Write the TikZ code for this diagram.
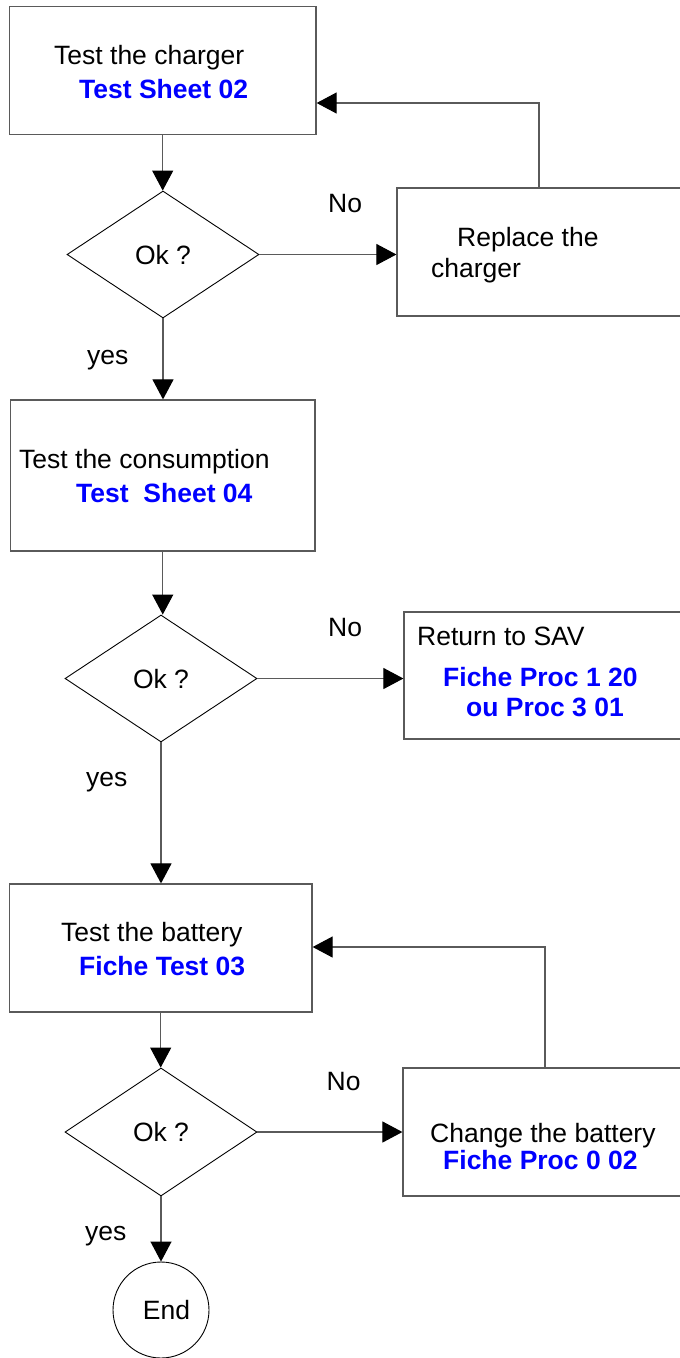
\documentclass[tikz,border=0pt]{standalone}
\usepackage{fontspec}
\setmainfont{Liberation Sans}
\usetikzlibrary{arrows.meta,shapes.geometric}

\definecolor{linkblue}{RGB}{0,0,255}
\definecolor{edgegray}{RGB}{90,90,90}

\tikzset{
  box/.style={draw=edgegray, line width=1.2pt, rectangle, inner sep=0pt},
  decision/.style={draw=black, line width=0.9pt, diamond, inner sep=0pt,
    font=\fontsize{26.5}{30}\selectfont, text height=19pt, text depth=0pt},
  terminal/.style={draw=black, line width=0.9pt, ellipse, inner sep=0pt},
  txt/.style={inner sep=0pt, anchor=west, text height=19pt, text depth=0pt,
    font=\fontsize{26.5}{30}\selectfont},
  ref/.style={txt, text=linkblue, font=\fontsize{26.5}{30}\selectfont\bfseries},
  flow/.style={draw=edgegray, line width=1.1pt,
    -{Triangle[width=21pt,length=20pt,color=black,fill=black]}},
}

\begin{document}
\begin{tikzpicture}[x=1pt, y=-1pt]
  \useasboundingbox (0,0) rectangle (680,1358);
  \clip (0,0) rectangle (680,1358);

  % process boxes on the main column
  \node[box, minimum width=306.7pt, minimum height=128pt] (b1) at (162.7,70.7) {};
  \node[box, minimum width=304.5pt, minimum height=151pt] (b2) at (162.75,475.5) {};
  \node[box, minimum width=302.7pt, minimum height=128pt] (b3) at (160.7,948) {};

  % boxes on the right, running off the page edge
  \node[box, minimum width=303pt, minimum height=128pt] (rep) at (548.5,252) {};
  \node[box, minimum width=296pt, minimum height=127pt] (sav) at (552,675.5) {};
  \node[box, minimum width=297pt, minimum height=128pt] (chg) at (551.5,1132) {};

  % decisions
  \node[decision, minimum width=192pt, minimum height=127pt] (d1) at (163,254.5) {Ok ?};
  \node[decision, minimum width=192pt, minimum height=127pt] (d2) at (161,678.5) {Ok ?};
  \node[decision, minimum width=192pt, minimum height=128pt] (d3) at (161,1132) {Ok ?};

  % end
  \node[terminal, minimum width=96pt, minimum height=96pt] (end) at (161,1310) {};
  \node[txt, anchor=center] (endlbl) at (166.5,1310) {End};

  % box texts
  \node[txt] (t1a) at (54,54.5) {Test the charger};
  \node[ref] (t1b) at (79,89) {Test Sheet 02};
  \node[txt] (t2a) at (19,459) {Test the consumption};
  \node[ref] (t2b) at (76,492.5) {Test\ \ Sheet 04};
  \node[txt] (t3a) at (61,932) {Test the battery};
  \node[ref] (t3b) at (79,966) {Fiche Test 03};
  \node[txt] (ra) at (457,236.5) {Replace the};
  \node[txt] (rb) at (431,268) {charger};
  \node[txt] (sa) at (417,635.5) {Return to SAV};
  \node[ref] (sb) at (443,677) {Fiche Proc 1 20};
  \node[ref] (sc) at (466,706.5) {ou Proc 3 01};
  \node[txt] (ca) at (430,1133) {Change the battery};
  \node[ref] (cb) at (443,1160) {Fiche Proc 0 02};

  % branch labels
  \node[txt] (no1) at (328,202.8) {No};
  \node[txt] (no2) at (328,626.5) {No};
  \node[txt] (no3) at (326.5,1080.5) {No};
  \node[txt] (yes1) at (87,354.5) {yes};
  \node[txt] (yes2) at (86,777) {yes};
  \node[txt] (yes3) at (85,1231) {yes};

  % connectors
  \coordinate (f1) at (539,103);
  \coordinate (f3) at (545,947);

  \draw[flow] (b1.south) -- (b1.south |- d1.north);
  \draw[flow] (d1.east) -- (d1.east -| rep.west);
  \draw[flow] (rep.north -| f1) |- (b1.east |- f1);
  \draw[flow] (d1.south) -- (d1.south |- b2.north);
  \draw[flow] (b2.south) -- (b2.south |- d2.north);
  \draw[flow] (d2.east) -- (d2.east -| sav.west);
  \draw[flow] (d2.south) -- (d2.south |- b3.north);
  \draw[flow] (b3.south) -- (b3.south |- d3.north);
  \draw[flow] (d3.east) -- (d3.east -| chg.west);
  \draw[flow] (chg.north -| f3) |- (b3.east |- f3);
  \draw[flow] (d3.south) -- (end.north);
\end{tikzpicture}
\end{document}
